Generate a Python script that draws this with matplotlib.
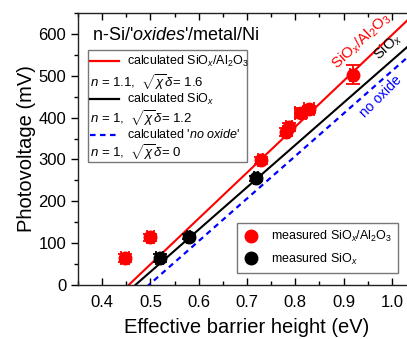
import matplotlib
matplotlib.use("Agg")
import matplotlib.pyplot as plt
from matplotlib.lines import Line2D
from matplotlib.patches import Rectangle
from matplotlib.ticker import MultipleLocator

plt.rcParams['font.family'] = ['Liberation Sans', 'DejaVu Sans']
plt.rcParams['mathtext.fontset'] = 'custom'
plt.rcParams['mathtext.rm'] = 'Liberation Sans'
plt.rcParams['mathtext.it'] = 'Liberation Sans:italic'
plt.rcParams['mathtext.bf'] = 'Liberation Sans:bold'

# measured data
red_x = [0.448, 0.500, 0.728, 0.780, 0.787, 0.811, 0.828, 0.920]
red_y = [64, 114, 298, 366, 378, 412, 420, 503]
red_xerr = [0.008, 0.008, 0.006, 0.006, 0.006, 0.012, 0.010, 0.006]
red_yerr = [10, 8, 8, 10, 10, 12, 8, 22]

blk_x = [0.519, 0.579, 0.719]
blk_y = [65, 115, 255]
blk_xerr = [0.008, 0.004, 0.004]
blk_yerr = [9, 6, 6]

# calculated lines (endpoints)
calc_x = [0.35, 1.05]
calc_red = [-115, 652]
calc_blk = [-120, 587]
calc_blue = [-149, 562]

fig = plt.figure(figsize=(4.07, 3.39), dpi=100)
ax = fig.add_axes([0.1916, 0.1593, 0.8305, 0.8024])

ax.plot(calc_x, calc_red, color='#ff0000', lw=1.5, zorder=2)
ax.plot(calc_x, calc_blk, color='black', lw=1.5, zorder=2)
ax.plot(calc_x, calc_blue, color='#0000ff', lw=1.6, ls=(0, (2.5, 2)), zorder=2)

ax.errorbar(red_x, red_y, xerr=red_xerr, yerr=red_yerr, fmt='o', color='#ff0000',
            ms=9, capsize=5, elinewidth=1.3, capthick=1.3, zorder=3)
ax.errorbar(blk_x, blk_y, xerr=blk_xerr, yerr=blk_yerr, fmt='o', color='black',
            ms=9, capsize=5, elinewidth=1.3, capthick=1.3, zorder=3)

ax.set_xlim(0.35, 1.05)
ax.set_ylim(0, 650)
ax.xaxis.set_major_locator(MultipleLocator(0.1))
ax.xaxis.set_minor_locator(MultipleLocator(0.05))
ax.yaxis.set_major_locator(MultipleLocator(100))
ax.yaxis.set_minor_locator(MultipleLocator(50))
ax.set_xticks([0.4, 0.5, 0.6, 0.7, 0.8, 0.9, 1.0])
ax.set_xticklabels(['0.4', '0.5', '0.6', '0.7', '0.8', '0.9', '1.0'])
ax.tick_params(axis='x', which='both', direction='in', top=True, labelsize=12, pad=7)
ax.tick_params(axis='x', which='major', length=5, width=1)
ax.tick_params(axis='x', which='minor', length=3, width=1)
ax.tick_params(axis='y', which='both', direction='out', labelsize=12)
ax.tick_params(axis='y', which='major', length=5, width=1)
ax.tick_params(axis='y', which='minor', length=3, width=1)
for s in ax.spines.values():
    s.set_color('#222222')
    s.set_linewidth(1)

ax.set_xlabel('Effective barrier height (eV)', fontsize=14.5, labelpad=6)
ax.set_ylabel('Photovoltage (mV)', fontsize=14.5, labelpad=2)

ax.text(0.041, 0.919, r"n-Si/'$\it{oxides}$'/metal/Ni", transform=ax.transAxes,
        fontsize=13, va='center', ha='left')

# labels on lines
ax.text(0.937, 584, r'SiO$_x$/Al$_2$O$_3$', color='#ff0000', fontsize=11,
        rotation=43, ha='center', va='center')
ax.text(0.991, 570, r'SiO$_x$', color='black', fontsize=10.5,
        rotation=43, ha='center', va='center')
ax.text(0.978, 450, 'no oxide', color='#0000ff', fontsize=10,
        rotation=45, ha='center', va='center')

# legend 1 (manual layout)
def fx(px):
    return (px - 78) / 338.0

def fy(py):
    return (285 - py) / 272.0

ax.add_patch(Rectangle((fx(88), fy(162)), fx(247) - fx(88), fy(50) - fy(162),
                       transform=ax.transAxes, fill=True, facecolor='white',
                       edgecolor='#777777', lw=1, zorder=5))
leg_rows = [
    ('line', '#ff0000', '-', r'calculated SiO$_x$/Al$_2$O$_3$', 61),
    ('text', None, None, r'$n$ = 1.1,  $\sqrt{\chi}\delta$= 1.6', 82),
    ('line', 'black', '-', r'calculated SiO$_x$', 99),
    ('text', None, None, r'$n$ = 1,  $\sqrt{\chi}\delta$= 1.2', 118),
    ('line', '#0000ff', (0, (2.5, 2)), r"calculated '$\it{no\ oxide}$'", 135),
    ('text', None, None, r'$n$ = 1,  $\sqrt{\chi}\delta$= 0', 152),
]
for kind, col, ls, label, py in leg_rows:
    if kind == 'line':
        ax.add_line(Line2D([fx(90), fx(119)], [fy(py), fy(py)], color=col, ls=ls,
                           lw=1.6, transform=ax.transAxes, zorder=6))
        ax.text(fx(127), fy(py), label, transform=ax.transAxes, fontsize=9,
                va='center', ha='left', zorder=6)
    else:
        ax.text(fx(90), fy(py), label, transform=ax.transAxes, fontsize=9.5,
                va='center', ha='left', zorder=6)

# legend 2
h1 = Line2D([], [], ls='none', marker='o', color='#ff0000', ms=9)
h2 = Line2D([], [], ls='none', marker='o', color='black', ms=9)
leg = ax.legend([h1, h2], [r'measured SiO$_x$/Al$_2$O$_3$', r'measured SiO$_x$'],
                loc='upper left', bbox_to_anchor=(fx(237), fy(223)),
                borderaxespad=0, fontsize=9, fancybox=False, edgecolor='#777777',
                handlelength=1.2, handletextpad=1.0, borderpad=0.5,
                labelspacing=0.6, framealpha=1)
leg.get_frame().set_linewidth(1)

fig.savefig('out.png', dpi=100)
